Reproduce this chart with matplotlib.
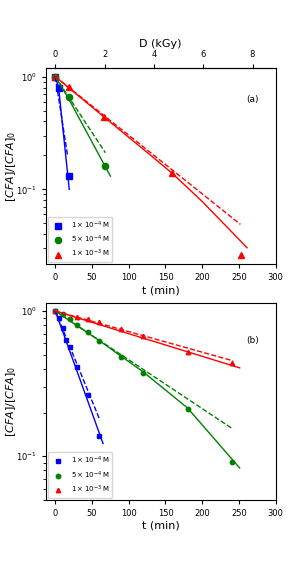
import matplotlib
matplotlib.use("Agg")
import matplotlib.pyplot as plt

# ---- data: panel (a) ----
DOSE_RATE = 0.0298  # kGy per min (top axis conversion)
ta_1e4 = [0, 4.5, 18]
ya_1e4 = [1.0, 0.80, 0.131]
ta_5e4 = [0, 18, 67]
ya_5e4 = [1.0, 0.66, 0.162]
ta_1e3 = [0, 18, 66, 159, 253]
ya_1e3 = [1.0, 0.815, 0.44, 0.14, 0.026]

# fitted curves (a): solid and dashed
fa_1e4_t = [0, 4.5, 19]
fa_1e4_y = [1.0, 0.80, 0.10]
da_1e4_t = [0, 16.8]
da_1e4_y = [1.0, 0.198]
fa_5e4_t = [0, 18, 75]
fa_5e4_y = [1.0, 0.64, 0.131]
da_5e4_t = [0, 68.2]
da_5e4_y = [1.0, 0.211]
fa_1e3_t = [0, 66, 130, 159, 200, 261]
fa_1e3_y = [1.0, 0.44, 0.20, 0.139, 0.078, 0.0303]
da_1e3_t = [0, 252]
da_1e3_y = [1.0, 0.0489]

# ---- data: panel (b) ----
tb_1e4 = [0, 5, 10, 15, 20, 30, 45, 60]
yb_1e4 = [1.0, 0.895, 0.767, 0.63, 0.562, 0.413, 0.264, 0.137]
tb_5e4 = [0, 10, 20, 30, 45, 60, 90, 120, 180, 240]
yb_5e4 = [1.0, 0.949, 0.877, 0.80, 0.72, 0.624, 0.484, 0.376, 0.21, 0.092]
tb_1e3 = [0, 30, 45, 60, 90, 120, 180, 240]
yb_1e3 = [1.0, 0.914, 0.877, 0.836, 0.748, 0.672, 0.524, 0.436]

fb_1e4_t = [0, 30, 65]
fb_1e4_y = [1.0, 0.38, 0.1224]
db_1e4_t = [0, 60.4]
db_1e4_y = [1.0, 0.179]
fb_5e4_t = [0, 60, 90, 120, 180, 251]
fb_5e4_y = [1.0, 0.625, 0.487, 0.38, 0.215, 0.083]
db_5e4_t = [0, 241]
db_5e4_y = [1.0, 0.155]
fb_1e3_t = [0, 251]
fb_1e3_y = [1.0, 0.406]
db_1e3_t = [0, 242]
db_1e3_y = [1.0, 0.454]

labels = [r"$1\times10^{-4}$ M", r"$5\times10^{-4}$ M", r"$1\times10^{-3}$ M"]
colors = ["blue", "green", "red"]
markers = ["s", "o", "^"]

fig = plt.figure(figsize=(3.07, 5.62), dpi=100)
axa = fig.add_axes([0.149, 0.5297, 0.749, 0.3498])
axb = fig.add_axes([0.149, 0.1103, 0.749, 0.35])

LW = 1.0

def panel(ax, pts, fits, dashes, ms, tag, tagy):
    for (t, y), c, m, lab in zip(pts, colors, markers, labels):
        ax.plot(t, y, linestyle="none", marker=m, color=c, ms=ms, label=lab)
    for (t, y), c in zip(fits, colors):
        ax.plot(t, y, "-", color=c, lw=LW)
    for (t, y), c in zip(dashes, colors):
        ax.plot(t, y, "--", color=c, lw=LW)
    ax.set_yscale("log")
    ax.set_xlim(-13, 300)
    ax.set_xlabel("t (min)", fontsize=8, labelpad=2)
    ax.set_ylabel(r"$[CFA]/[CFA]_0$", fontsize=8)
    ax.yaxis.set_label_coords(-0.122, 0.5)
    ax.tick_params(labelsize=6, length=3)
    ax.tick_params(which="minor", length=2)
    ax.text(0.90, tagy, tag, transform=ax.transAxes, fontsize=6.5,
            ha="center", va="center")
    ax.legend(loc="lower left", fontsize=5, borderaxespad=0.3,
              handletextpad=0.9, labelspacing=0.45)

panel(axa,
      [(ta_1e4, ya_1e4), (ta_5e4, ya_5e4), (ta_1e3, ya_1e3)],
      [(fa_1e4_t, fa_1e4_y), (fa_5e4_t, fa_5e4_y), (fa_1e3_t, fa_1e3_y)],
      [(da_1e4_t, da_1e4_y), (da_5e4_t, da_5e4_y), (da_1e3_t, da_1e3_y)],
      4.5, "(a)", 0.84)
axa.set_ylim(0.0216, 1.2)

sec = axa.secondary_xaxis("top", functions=(lambda t: t * DOSE_RATE,
                                             lambda d: d / DOSE_RATE))
sec.set_xlabel("D (kGy)", fontsize=8, labelpad=2)
sec.tick_params(labelsize=6, length=3)

panel(axb,
      [(tb_1e4, yb_1e4), (tb_5e4, yb_5e4), (tb_1e3, yb_1e3)],
      [(fb_1e4_t, fb_1e4_y), (fb_5e4_t, fb_5e4_y), (fb_1e3_t, fb_1e3_y)],
      [(db_1e4_t, db_1e4_y), (db_5e4_t, db_5e4_y), (db_1e3_t, db_1e3_y)],
      3.2, "(b)", 0.813)
axb.set_ylim(0.05, 1.13)

fig.savefig("out.png", dpi=100)
